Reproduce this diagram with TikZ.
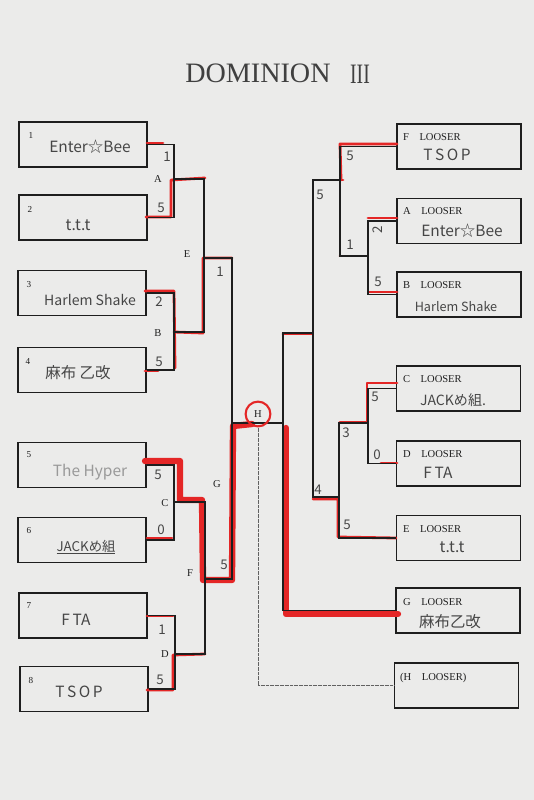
\documentclass[tikz,border=0pt]{standalone}
\usepackage{fontspec}
\setmainfont{Liberation Serif}
\newfontfamily\handfont{Noto Sans CJK JP}

\definecolor{paper}{RGB}{235,235,234}
\definecolor{ink}{RGB}{30,30,30}
\definecolor{pencil}{RGB}{70,70,70}
\definecolor{marker}{RGB}{228,38,38}

\tikzset{
  team/.style={draw=ink, line width=2.2pt, minimum width=6.4cm, minimum height=2.25cm, inner sep=0pt},
  looser/.style={team, minimum width=6.2cm},
  seedno/.style={font=\fontsize{13}{13}\selectfont, text=ink, inner sep=0pt},
  matchlbl/.style={font=\fontsize{15}{15}\selectfont, text=ink, inner sep=0pt},
  tag/.style={font=\fontsize{15}{15}\selectfont, text=ink, inner sep=0pt, anchor=west},
  scrawl/.style={font=\handfont\fontsize{22}{22}\selectfont, text=pencil, inner sep=0pt},
  score/.style={font=\handfont\fontsize{19}{19}\selectfont, text=pencil, inner sep=0pt},
  wire/.style={draw=ink, line width=2.6pt},
  pen/.style={draw=marker, line width=4pt, line cap=round, line join=round},
  felt/.style={pen, line width=9pt},
}

\begin{document}
\begin{tikzpicture}[x=0.05cm, y=-0.05cm]

  % paper
  \fill[paper] (0,0) rectangle (534,800);
  \useasboundingbox (0,0) rectangle (534,800);

  % title
  \node[font=\fontsize{40}{40}\selectfont, text=ink!85] (title) at (258,73) {DOMINION};
  \node[font=\fontsize{40}{40}\selectfont, text=ink!85, xscale=0.7] (roman) at (360,74) {III};

  % winners side
  \node[team] (p1) at (83,144.5) {};
  \node[team] (p2) at (83,217.5) {};
  \node[team] (p3) at (82,293) {};
  \node[team] (p4) at (82,370) {};
  \node[team] (p5) at (82,465) {};
  \node[team] (p6) at (82,540) {};
  \node[team] (p7) at (83,615.5) {};
  \node[team] (p8) at (84,689) {};

  \node[seedno] (s1) at (31,135) {1};
  \node[seedno] (s2) at (30,209) {2};
  \node[seedno] (s3) at (29,285) {3};
  \node[seedno] (s4) at (28,361) {4};
  \node[seedno] (s5) at (29,455) {5};
  \node[seedno] (s6) at (29,531) {6};
  \node[seedno] (s7) at (29,606) {7};
  \node[seedno] (s8) at (31,680) {8};

  \node[scrawl] (n1) at (90,147) {Enter☆Bee};
  \node[scrawl] (n2) at (78,225) {t.t.t};
  \node[scrawl, font=\handfont\fontsize{20}{20}\selectfont] (n3) at (90,300) {Harlem Shake};
  \node[scrawl] (n4) at (78,373) {麻布\ 乙改};
  \node[scrawl, text=pencil!55] (n5) at (90,472) {The Hyper};
  \node[scrawl, font=\handfont\fontsize{19}{19}\selectfont] (n6) at (86,547) {\underline{JACKめ組}};
  \node[scrawl] (n7) at (76,620) {F\,TA};
  \node[scrawl] (n8) at (79,692) {T\,S\,O\,P};

  % losers side
  \node[looser] (lF) at (459,146.5) {};
  \node[looser] (lA) at (459,221) {};
  \node[looser] (lB) at (459,294.5) {};
  \node[looser] (lC) at (458.5,388.5) {};
  \node[looser] (lD) at (458.5,463.5) {};
  \node[looser] (lE) at (458.5,538) {};
  \node[looser] (lG) at (458,610.5) {};
  \node[looser] (lH) at (456.5,685.5) {};

  \node[tag] (tF) at (403,137) {F\quad LOOSER};
  \node[tag] (tA) at (403,211) {A\quad LOOSER};
  \node[tag] (tB) at (403,285) {B\quad LOOSER};
  \node[tag] (tC) at (403,379) {C\quad LOOSER};
  \node[tag] (tD) at (403,454) {D\quad LOOSER};
  \node[tag] (tE) at (403,529) {E\quad LOOSER};
  \node[tag] (tG) at (403,602) {G\quad LOOSER};
  \node[tag] (tH) at (400,678) {(H\quad LOOSER)};

  \node[scrawl] (rF) at (447,155) {T\,S\,O\,P};
  \node[scrawl] (rA) at (462,231) {Enter☆Bee};
  \node[scrawl, font=\handfont\fontsize{18}{18}\selectfont] (rB) at (456,307) {Harlem Shake};
  \node[scrawl, font=\handfont\fontsize{20}{20}\selectfont] (rC) at (453,400) {JACKめ組.};
  \node[scrawl] (rD) at (438,473) {F\,TA};
  \node[scrawl] (rE) at (452,547) {t.t.t};
  \node[scrawl] (rG) at (450,622) {麻布乙改};

  % junctions
  \coordinate (A) at (174,179);
  \coordinate (B) at (174,332);
  \coordinate (C) at (174,502);
  \coordinate (D) at (175,654);
  \coordinate (E) at (204,258);
  \coordinate (F) at (205,579);
  \coordinate (G) at (232,423);
  \coordinate (H) at (283,423);
  \coordinate (AB) at (368,256);
  \coordinate (FA) at (340,180);
  \coordinate (CD) at (368,423);
  \coordinate (CDE) at (339,497);
  \coordinate (top) at (313,333);
  \coordinate (drop) at (258,425);

  % marker
  \draw[pen] (147,143) -- (163,143);
  \draw[pen] (146,217) -- (171,217) -- (171,180) -- (205,178);
  \draw[pen] (145,291) -- (174,291) -- (175,368);
  \draw[pen] (145,371) -- (158,371);
  \draw[pen] (174,332) -- (203,333) -- (203,258) -- (232,258);
  \draw[pen] (147,538) -- (172,538);
  \draw[pen] (147,616) -- (173,616);
  \draw[pen] (147,690) -- (173,690) -- (173,655) -- (205,654);
  \draw[pen] (397,144) -- (340,144) -- (341,180);
  \draw[pen] (343,180) -- (313,180) -- (313,334) -- (283,334);
  \draw[pen] (397,218) -- (368,218);
  \draw[pen] (340,256) -- (368,256) -- (368,292) -- (397,292);
  \draw[pen] (397,383) -- (367,383) -- (367,422) -- (340,422);
  \draw[pen] (381,463) -- (397,463);
  \draw[pen] (313,499) -- (338,499) -- (338,537) -- (396,538);
  \draw[felt] (145,461) -- (180,461) -- (180,500) -- (202,500) -- (203,580)
    -- (232,580) -- (233,426) -- (252,424);
  \draw[felt] (286,428) -- (286,614) -- (398,614);

  % bracket
  \draw[wire] (p1.east) -| (A) |- (p2.east);
  \draw[wire] (p3.east) -| (B) |- (p4.east);
  \draw[wire] (A) -| (E) |- (B);
  \draw[wire] (p5.east) -| (C) |- (p6.east);
  \draw[wire] (p7.east) -| (D) |- (p8.east);
  \draw[wire] (C) -| (F) |- (D);
  \draw[wire] (E) -| (G) |- (F);
  \draw[wire] (G) -- (H);

  \draw[wire] (lA.west) -| (AB) |- (lB.west);
  \draw[wire] (lF.west) -| (FA) |- (AB);
  \draw[wire] (lC.west) -| (CD) |- (lD.west);
  \draw[wire] (CD) -| (CDE) |- (lE.west);
  \draw[wire] (FA) -| (top) |- (CDE);
  \draw[wire] (top) -| (H) |- (lG.west);
  \draw[ink!70, line width=0.8pt, densely dotted] (drop) |- (lH.west);

  % match letters
  \node[matchlbl] (mA) at (158,179) {A};
  \node[matchlbl] (mB) at (158,333) {B};
  \node[matchlbl] (mC) at (165,503) {C};
  \node[matchlbl] (mD) at (165,654) {D};
  \node[matchlbl] (mE) at (187,254) {E};
  \node[matchlbl] (mF) at (190,573) {F};
  \node[matchlbl] (mG) at (217,484) {G};
  \node[matchlbl] (mH) at (258,414) {H};
  \draw[pen, line width=3pt] (mH.center) circle[radius=0.62cm];

  % scores
  \node[score] (c1) at (167,157) {1};
  \node[score] (c2) at (161,208) {5};
  \node[score] (c3) at (159,302) {2};
  \node[score] (c4) at (159,362) {5};
  \node[score] (c5) at (220,272) {1};
  \node[score] (c6) at (158,475) {5};
  \node[score] (c7) at (161,530) {0};
  \node[score] (c8) at (162,630) {1};
  \node[score] (c9) at (160,680) {5};
  \node[score] (c10) at (224,565) {5};
  \node[score] (d1) at (350,156) {5};
  \node[score] (d2) at (320,195) {5};
  \node[score, rotate=90] (d3) at (378,230) {2};
  \node[score] (d4) at (378,282) {5};
  \node[score] (d5) at (350,245) {1};
  \node[score] (d6) at (375,397) {5};
  \node[score] (d7) at (377,455) {0};
  \node[score] (d8) at (346,433) {3};
  \node[score] (d9) at (318,490) {4};
  \node[score] (d10) at (347,525) {5};

\end{tikzpicture}
\end{document}
